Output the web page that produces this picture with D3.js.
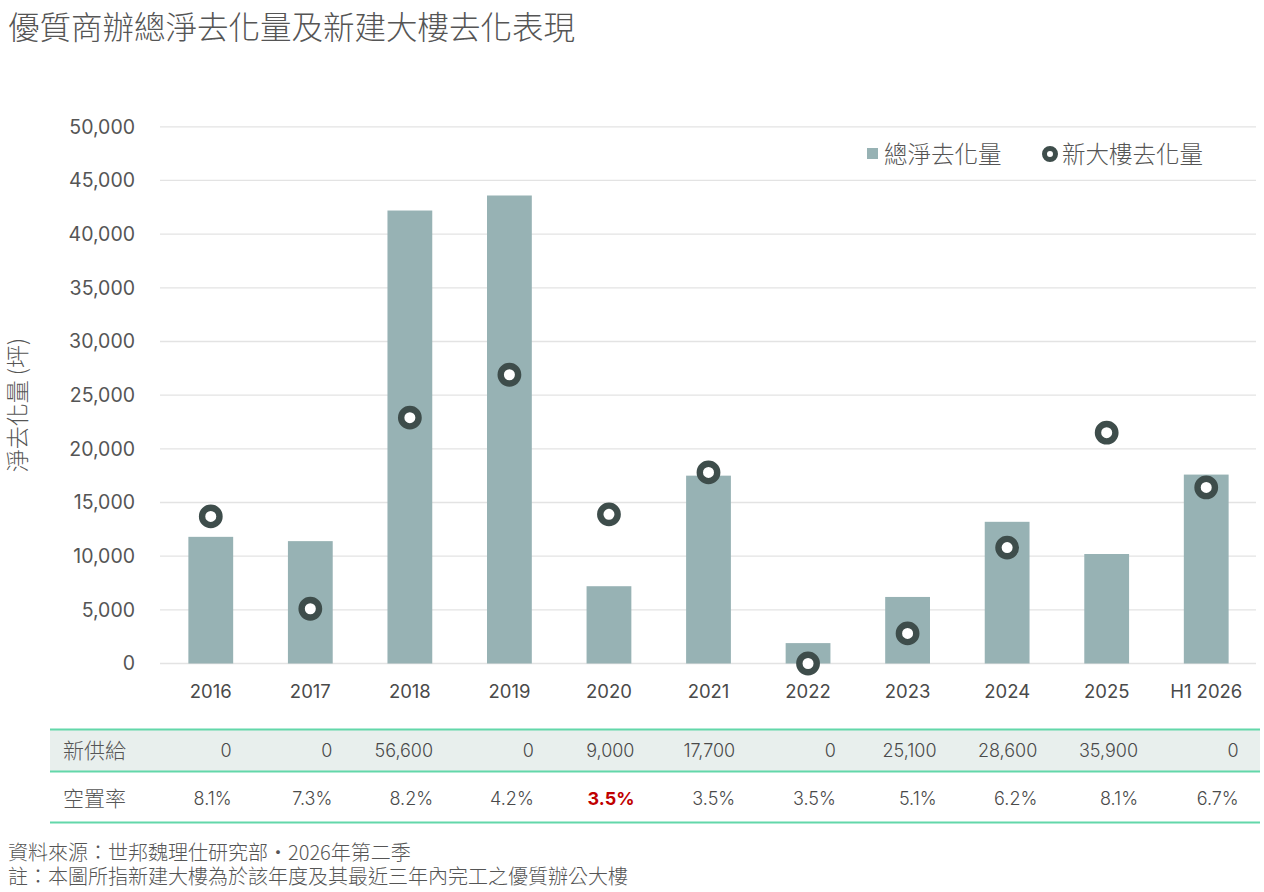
<!DOCTYPE html>
<html><head><meta charset="utf-8">
<script src="https://cdn.jsdelivr.net/npm/d3@7"></script>
<style>
body{margin:0;background:#fff;}
svg{display:block;}
.cjk{font-family:"Noto Sans CJK TC","Noto Sans CJK SC",sans-serif;font-weight:300;}
.num{font-family:Inter,"Noto Sans",sans-serif;}
</style></head><body>
<svg id="c" width="1264" height="892"></svg>
<script>
const categories = ["2016","2017","2018","2019","2020","2021","2022","2023","2024","2025","H1 2026"];
const netAbsorption = [11800,11400,42200,43600,7200,17500,1900,6200,13200,10200,17600];
const newBuildingAbsorption = [13700,5100,22900,26900,13900,17800,0,2800,10800,21500,16400];
const newSupply = ["0","0","56,600","0","9,000","17,700","0","25,100","28,600","35,900","0"];
const vacancy = ["8.1%","7.3%","8.2%","4.2%","3.5%","3.5%","3.5%","5.1%","6.2%","8.1%","6.7%"];
const highlightVacancy = [false,false,false,false,true,false,false,false,false,false,false];
const yTicks = [0,5000,10000,15000,20000,25000,30000,35000,40000,45000,50000];
const tableLabels = ["新供給","空置率"];

const svg = d3.select("#c");
const barColor = "#97b2b4", dotColor = "#3e4d4b";

// Title
svg.append("text").attr("class","cjk").attr("x",8).attr("y",39)
  .attr("font-size",31.5).attr("fill","#555").text("優質商辦總淨去化量及新建大樓去化表現");

const x = d3.scaleBand().domain(categories).range([161,1256]).paddingInner(0.55).paddingOuter(0.275);
const y = d3.scaleLinear().domain([0,50000]).range([663.5,126.8]);

// gridlines
svg.append("g").selectAll("line").data(yTicks).join("line")
  .attr("x1",160).attr("x2",1256).attr("y1",d=>y(d)).attr("y2",d=>y(d))
  .attr("stroke","#e3e3e3").attr("stroke-width",1.3);

// y axis
const yAxis = d3.axisLeft(y).tickValues(yTicks).tickFormat(d3.format(",")).tickSize(0).tickPadding(0);
const ya = svg.append("g").attr("transform","translate(135,0)").call(yAxis);
ya.select(".domain").remove();
ya.selectAll("text").attr("class","num").attr("font-size",19.5).attr("fill","#555");

// y title
svg.append("text").attr("class","cjk").attr("transform","translate(26,405) rotate(-90)")
  .attr("text-anchor","middle").attr("font-size",23).attr("fill","#555").text("淨去化量 (坪)");

// bars
svg.append("g").selectAll("rect").data(categories).join("rect")
  .attr("x",d=>x(d)).attr("width",x.bandwidth())
  .attr("y",(d,i)=>y(netAbsorption[i])).attr("height",(d,i)=>y(0)-y(netAbsorption[i]))
  .attr("fill",barColor);

// dots
svg.append("g").selectAll("circle").data(categories).join("circle")
  .attr("cx",d=>x(d)+x.bandwidth()/2).attr("cy",(d,i)=>y(newBuildingAbsorption[i]))
  .attr("r",8.7).attr("fill","#fff").attr("stroke",dotColor).attr("stroke-width",6.4);

// x axis
const xAxis = d3.axisBottom(x).tickSize(0).tickPadding(0);
const xa = svg.append("g").attr("transform","translate(0,685)").call(xAxis);
xa.select(".domain").remove();
xa.selectAll("text").attr("class","num").attr("font-size",18.5).attr("fill","#4a4a4a").attr("dy","0.71em");

// legend
svg.append("rect").attr("x",867).attr("y",148).attr("width",11).attr("height",11).attr("fill",barColor);
svg.append("text").attr("class","cjk").attr("x",884).attr("y",163).attr("font-size",23.5).attr("fill","#555").text("總淨去化量");
svg.append("circle").attr("cx",1050).attr("cy",154).attr("r",5.5).attr("fill","#fff").attr("stroke",dotColor).attr("stroke-width",5);
svg.append("text").attr("class","cjk").attr("x",1062).attr("y",163).attr("font-size",23.5).attr("fill","#555").text("新大樓去化量");

// table
const tx = d3.scaleBand().domain(categories).range([131,1238.7]);
const tLeft = 50, tRight = 1260;
const rowTop = [730,772], rowH = [42,50];
svg.append("rect").attr("x",tLeft).attr("y",rowTop[0]).attr("width",tRight-tLeft).attr("height",rowH[0]).attr("fill","#e8efed");
[729.5,771.5,822.5].forEach(yy=>{
  svg.append("line").attr("x1",tLeft).attr("x2",tRight).attr("y1",yy).attr("y2",yy)
    .attr("stroke","#63d7aa").attr("stroke-width",2);
});
const rowY = [751,799];
tableLabels.forEach((t,i)=>{
  svg.append("text").attr("class","cjk").attr("x",63).attr("y",rowY[i]).attr("dy","0.35em")
    .attr("font-size",21).attr("fill","#555").text(t);
});
svg.append("g").selectAll("text").data(categories).join("text")
  .attr("class","num").attr("x",d=>tx(d)+tx.bandwidth()).attr("y",rowY[0]).attr("dy","0.35em")
  .attr("text-anchor","end").attr("font-size",18).attr("fill","#4a4a4a").attr("font-weight",300)
  .text((d,i)=>newSupply[i]);
svg.append("g").selectAll("text").data(categories).join("text")
  .attr("class","num").attr("x",d=>tx(d)+tx.bandwidth()).attr("y",rowY[1]).attr("dy","0.35em")
  .attr("text-anchor","end").attr("font-size",18)
  .attr("fill",(d,i)=>highlightVacancy[i]?"#c00000":"#4a4a4a")
  .attr("font-weight",(d,i)=>highlightVacancy[i]?700:300)
  .text((d,i)=>vacancy[i]);

// footer
svg.append("text").attr("class","cjk").attr("x",8).attr("y",860).attr("font-size",20).attr("fill","#555").text("資料來源：世邦魏理仕研究部・2026年第二季");
svg.append("text").attr("class","cjk").attr("x",8).attr("y",884).attr("font-size",20).attr("fill","#555").text("註：本圖所指新建大樓為於該年度及其最近三年內完工之優質辦公大樓");
</script></body></html>
